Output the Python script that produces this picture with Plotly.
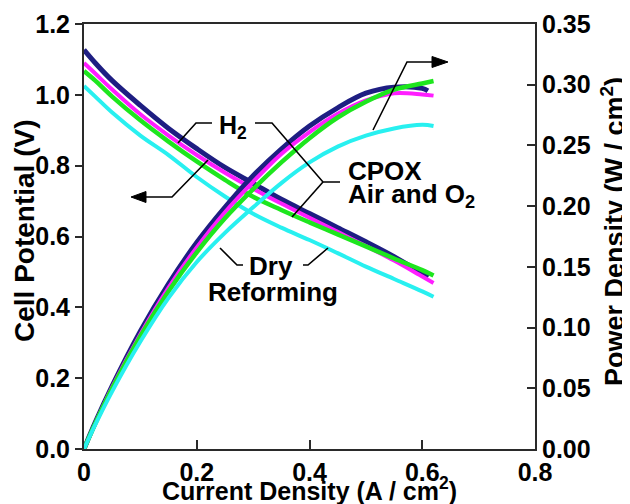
import plotly.graph_objects as go

# ---------------- data ----------------
current_h2 = [0, 0.02, 0.05, 0.1, 0.15, 0.2, 0.25, 0.3, 0.35, 0.4, 0.45, 0.5, 0.55, 0.6, 0.61]
current = [0, 0.02, 0.05, 0.1, 0.15, 0.2, 0.25, 0.3, 0.35, 0.4, 0.45, 0.5, 0.55, 0.6, 0.62]

volt_h2 = [1.127, 1.09, 1.04, 0.97, 0.905, 0.848, 0.795, 0.75, 0.705, 0.665, 0.625, 0.585, 0.543, 0.495, 0.484]
power_h2 = [0.0, 0.022, 0.052, 0.097, 0.136, 0.170, 0.199, 0.225, 0.247, 0.266, 0.281, 0.293, 0.298, 0.297, 0.295]

volt_cpox_air = [1.09, 1.06, 1.015, 0.945, 0.885, 0.83, 0.78, 0.735, 0.693, 0.653, 0.613, 0.573, 0.532, 0.487, 0.469]
power_cpox_air = [0.0, 0.021, 0.051, 0.0945, 0.133, 0.166, 0.195, 0.22, 0.243, 0.261, 0.276, 0.287, 0.293, 0.292, 0.291]

volt_cpox_o2 = [1.067, 1.04, 0.995, 0.928, 0.868, 0.812, 0.76, 0.712, 0.675, 0.64, 0.606, 0.572, 0.538, 0.505, 0.49]
power_cpox_o2 = [0.0, 0.021, 0.050, 0.093, 0.130, 0.162, 0.190, 0.214, 0.236, 0.256, 0.273, 0.286, 0.296, 0.301, 0.303]

volt_dry = [1.025, 0.995, 0.95, 0.885, 0.83, 0.768, 0.713, 0.664, 0.625, 0.59, 0.553, 0.515, 0.48, 0.445, 0.43]
power_dry = [0.0, 0.020, 0.0475, 0.0885, 0.1245, 0.154, 0.178, 0.199, 0.219, 0.236, 0.249, 0.258, 0.264, 0.267, 0.266]

x_ticks = [0, 0.2, 0.4, 0.6, 0.8]
x_labels = ["0", "0.2", "0.4", "0.6", "0.8"]
y_ticks = [0.0, 0.2, 0.4, 0.6, 0.8, 1.0, 1.2]
y_labels = ["0.0", "0.2", "0.4", "0.6", "0.8", "1.0", "1.2"]
y2_ticks = [0.0, 0.05, 0.10, 0.15, 0.20, 0.25, 0.30, 0.35]
y2_labels = ["0.00", "0.05", "0.10", "0.15", "0.20", "0.25", "0.30", "0.35"]

# ---------------- styling ----------------
OFF = 8  # page body margin
W, H = 630 - OFF, 504 - OFF
L, R, T, B = 84, 535, 24, 449  # plot area in screen pixels
FONT = "Liberation Sans, Arial, sans-serif"
AXC = "#2a2a2a"

series = [
    (current_h2, volt_h2, power_h2, "#1e1e82", 5),
    (current, volt_cpox_air, power_cpox_air, "#ff1eff", 4),
    (current, volt_cpox_o2, power_cpox_o2, "#1ee61e", 4.5),
    (current, volt_dry, power_dry, "#28f0f0", 4),
]

fig = go.Figure()
for xs, v, p, c, w in series:
    fig.add_trace(go.Scatter(x=xs, y=v, mode="lines", line=dict(color=c, width=w, shape="spline"),
                             yaxis="y", showlegend=False, hoverinfo="skip"))
    fig.add_trace(go.Scatter(x=xs, y=p, mode="lines", line=dict(color=c, width=w, shape="spline"),
                             yaxis="y2", showlegend=False, hoverinfo="skip"))


def px2paper(x, y):
    return (x - L) / (R - L), (B - y) / (B - T)


def path(points):
    pts = [px2paper(x, y) for x, y in points]
    return "M " + " L ".join(f"{a:.5f},{b:.5f}" for a, b in pts)


shapes = []
leaders = [
    [(212, 123), (196, 123), (178, 143)],
    [(208, 160), (172, 197), (140, 197)],
    [(255, 123), (272, 123), (323, 182), (340, 182)],
    [(323, 182), (292, 217)],
    [(373, 130), (407, 62), (434, 62)],
    [(243, 265), (237, 265), (220, 248)],
    [(303, 265), (308, 265), (328, 248)],
]
for pts in leaders:
    shapes.append(dict(type="path", xref="paper", yref="paper", path=path(pts),
                       line=dict(color="black", width=1.6)))
# arrowheads
for tri in ([(131, 197), (146, 191.5), (146, 202.5)], [(448, 62), (432, 56.5), (432, 67.5)]):
    shapes.append(dict(type="path", xref="paper", yref="paper", path=path(tri) + " Z",
                       fillcolor="black", line=dict(color="black", width=1)))

annotations = []


def label(text, x, y, xanchor="center", size=25, angle=0):
    px_, py_ = px2paper(x, y)
    annotations.append(dict(text=text, x=px_, y=py_, xref="paper", yref="paper", showarrow=False,
                            xanchor=xanchor, yanchor="middle", textangle=angle,
                            font=dict(family=FONT, size=size, color="black", weight="bold")))


label("H<sub>2</sub>", 233, 127)
label("CPOX", 346, 171, xanchor="left", size=26)
label("Air and O<sub>2</sub>", 346, 196, xanchor="left", size=26)
label("Dry", 271, 266, size=26)
label("Reforming", 273, 292, size=26)

# axis titles
label("Cell Potential (V)", 24, 231, size=28, angle=-90)
label("Power Density (W / cm<sup>2</sup>)", 613, 232, size=27, angle=-90)
label("Current Density (A / cm<sup>2</sup>)", 309, 489, size=25)

tickfont = dict(family=FONT, size=25, color="black", weight="bold")

fig.update_layout(
    width=W, height=H,
    margin=dict(l=L - OFF, r=W - (R - OFF), t=T - OFF, b=H - (B - OFF), autoexpand=False),
    paper_bgcolor="white", plot_bgcolor="white",
    showlegend=False,
    xaxis=dict(range=[0, 0.8], tickvals=x_ticks, ticktext=x_labels, ticks="inside", ticklen=9,
               tickwidth=2, tickcolor=AXC, showline=True, linecolor=AXC, linewidth=2, mirror=True,
               showgrid=False, zeroline=False, tickfont=tickfont),
    yaxis=dict(range=[0, 1.2], tickvals=y_ticks, ticktext=y_labels, ticks="outside", ticklen=7,
               tickwidth=2, tickcolor=AXC, showline=True, linecolor=AXC, linewidth=2,
               showgrid=False, zeroline=False, tickfont=tickfont),
    yaxis2=dict(range=[0, 0.35], tickvals=y2_ticks, ticktext=y2_labels, ticks="inside", ticklen=8,
                tickwidth=2, tickcolor=AXC, showline=True, linecolor=AXC, linewidth=2,
                overlaying="y", side="right", showgrid=False, zeroline=False, tickfont=tickfont),
    shapes=shapes,
    annotations=annotations,
)

fig.write_html("out.html")
